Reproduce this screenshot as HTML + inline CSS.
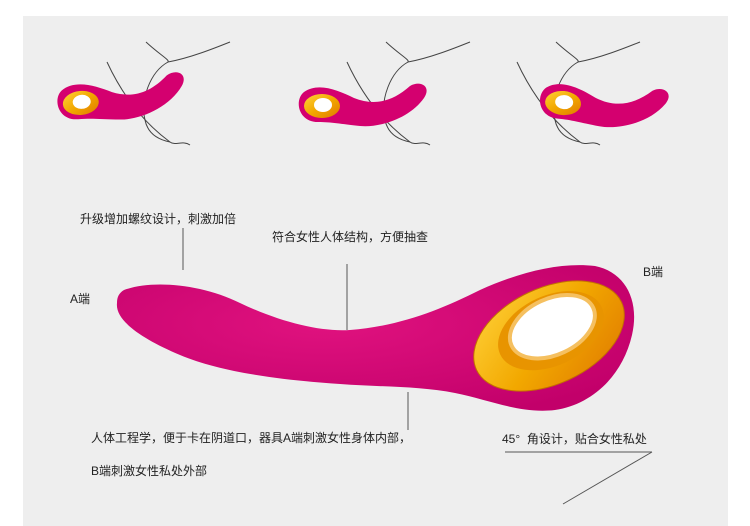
<!DOCTYPE html>
<html><head><meta charset="utf-8"><style>
body{margin:0;background:#fff;width:750px;height:526px;overflow:hidden;position:relative;font-family:"Liberation Sans","Noto Sans CJK SC",sans-serif;}
.bg{position:absolute;left:23px;top:16px;width:705px;height:510px;background:#eeeeee;}
.t{position:absolute;font-size:12px;color:#222;white-space:nowrap;}
svg{position:absolute;left:0;top:0;}
</style></head><body>
<div class="bg"></div>
<svg width="750" height="526" viewBox="0 0 750 526">
<defs>
<radialGradient id="pk" cx="40%" cy="40%" r="70%"><stop offset="0" stop-color="#e0127f"/><stop offset="1" stop-color="#c2006a"/></radialGradient>
<linearGradient id="gd" x1="0" y1="0" x2="1" y2="1"><stop offset="0" stop-color="#ffd23a"/><stop offset="0.5" stop-color="#f2a800"/><stop offset="1" stop-color="#e07a00"/></linearGradient>
<g id="th">
<path d="M-6 -4 C8 -14 28 -6 44 2 C64 10 82 6 100 -10 C110 -16 122 -10 114 2 C100 22 70 32 50 30 C30 28 22 26 8 26 C-12 26 -16 4 -6 -4Z" fill="#d4006f"/>
<ellipse cx="12" cy="10" rx="18" ry="12" fill="url(#gd)"/>
<ellipse cx="13" cy="9" rx="9" ry="7" fill="#fff"/>
</g>
<g id="lines" fill="none" stroke="#444" stroke-width="1">
<path d="M107 62 C120 90 140 120 170 142 C175 146 183 140 190 145"/>
<path d="M146 42 C160 55 170 60 168 62 C190 58 215 48 230 42"/>
<path d="M168 62 C150 72 140 100 145 120 C148 135 160 140 170 142"/>
</g>
</defs>
<g><use href="#lines"/><use href="#th" transform="translate(68,94) rotate(-5)"/></g>
<g><use href="#lines" transform="translate(240,0)"/><use href="#th" transform="translate(310,96)"/></g>
<g><use href="#lines" transform="translate(410,0)"/><use href="#th" transform="translate(552,92) rotate(5)"/></g>
<!-- main device -->
<path d="M124 290 C150 280 200 283 240 303 C280 322 320 332 350 330 C400 326 440 310 480 290 C520 272 560 262 595 266 C625 272 640 300 632 335 C622 378 590 405 555 410 C520 414 490 400 455 393 C420 386 380 387 340 384 C280 380 220 372 180 355 C140 338 115 320 117 303 C117 297 119 293 124 290Z" fill="url(#pk)"/>
<g transform="rotate(-25 549 336)">
<ellipse cx="549" cy="336" rx="80" ry="48" fill="url(#gd)" stroke="#c47000" stroke-width="1"/>
<ellipse cx="553" cy="332" rx="56" ry="35" fill="#e89400"/>
<ellipse cx="556" cy="329" rx="45" ry="28" fill="#fff" stroke="#f5c060" stroke-width="4"/>
</g>
<g stroke="#555" stroke-width="1" fill="none">
<line x1="183" y1="228" x2="183" y2="270"/>
<line x1="347" y1="264" x2="347" y2="330"/>
<line x1="408" y1="392" x2="408" y2="430"/>
<line x1="505" y1="452" x2="652" y2="452"/>
<line x1="652" y1="452" x2="563" y2="504"/>
</g>
</svg>
<div class="t" style="left:80px;top:210px;">升级增加螺纹设计，刺激加倍</div>
<div class="t" style="left:272px;top:228px;">符合女性人体结构，方便抽查</div>
<div class="t" style="left:70px;top:290px;">A端</div>
<div class="t" style="left:643px;top:263px;">B端</div>
<div class="t" style="left:91px;top:429px;">人体工程学，便于卡在阴道口，器具A端刺激女性身体内部，</div>
<div class="t" style="left:91px;top:462px;">B端刺激女性私处外部</div>
<div class="t" style="left:502px;top:430px;">45°&nbsp; 角设计，贴合女性私处</div>
</body></html>
